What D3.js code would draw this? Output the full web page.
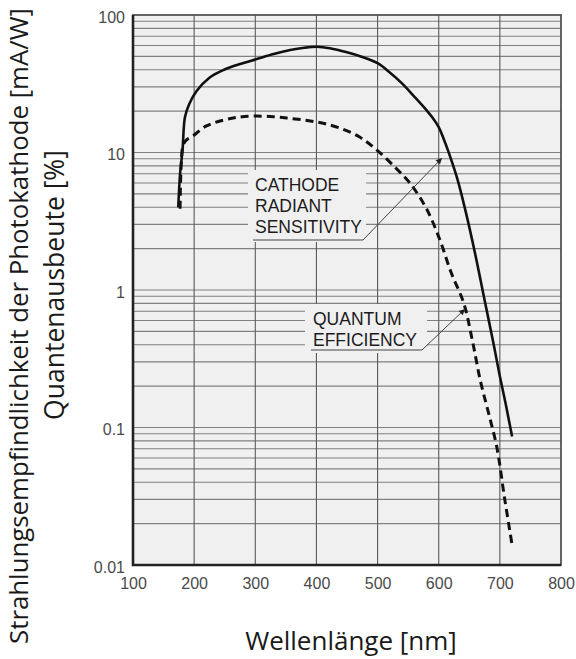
<!DOCTYPE html>
<html>
<head>
<meta charset="utf-8">
<script src="https://cdn.jsdelivr.net/npm/d3@7"></script>
<style>
  html, body { margin: 0; padding: 0; background: #ffffff; }
  svg { display: block; }
</style>
</head>
<body>
<svg id="chart" width="576" height="659"></svg>
<script>
// Photocathode spectral response: radiant sensitivity (mA/W) and quantum efficiency (%)
const wavelengthTicks = [100, 200, 300, 400, 500, 600, 700, 800];
const valueTicks = [0.01, 0.1, 1, 10, 100];
const valueTickLabels = ["0.01", "0.1", "1", "10", "100"];

const sensitivityWavelength = [174, 177, 181, 185, 192, 204, 225, 248, 275, 301, 330, 357, 380, 401, 422, 450, 475, 500, 520, 540, 560, 580, 590, 600, 608, 615, 630, 645, 660, 675, 690, 700, 710, 720];
const sensitivityValue      = [4.0, 7.0, 10.4, 18.1, 22.5, 28.0, 35.0, 39.8, 44.0, 47.6, 52.0, 55.6, 57.8, 58.8, 57.3, 53.5, 49.5, 44.6, 38.2, 31.8, 25.5, 20.3, 17.9, 15.3, 12.6, 10.4, 6.53, 3.58, 1.80, 0.846, 0.40, 0.236, 0.145, 0.086];

const efficiencyWavelength = [177, 178.5, 182, 188, 196, 220, 248, 270, 297, 330, 357, 385, 411, 439, 470, 499, 530, 553, 580, 602, 620, 641, 655, 668, 682, 695, 708, 720];
const efficiencyValue      = [3.9, 7.5, 11.3, 12.4, 13.0, 15.6, 17.2, 18.0, 18.4, 18.2, 17.7, 17.1, 16.3, 15.0, 13.0, 10.4, 7.7, 5.98, 3.9, 2.31, 1.35, 0.80, 0.43, 0.22, 0.125, 0.072, 0.030, 0.014];

const xTitle = "Wellenlänge [nm]";
const yTitleLines = ["Strahlungsempfindlichkeit der Photokathode [mA/W]", "Quantenausbeute [%]"];

const svg = d3.select("#chart");
const plot = { left: 133, right: 561, top: 15, bottom: 565 };

const x = d3.scaleLinear().domain([100, 800]).range([plot.left, plot.right]);
const y = d3.scaleLog().domain([0.01, 100]).range([plot.bottom, plot.top]);

// plot background
svg.append("rect")
  .attr("x", plot.left).attr("y", plot.top)
  .attr("width", plot.right - plot.left).attr("height", plot.bottom - plot.top)
  .attr("fill", "#f0f0f0");

// horizontal log grid (1..9 in each decade)
const minorValues = [];
for (let e = -2; e < 2; e++) {
  for (let m = 1; m <= 9; m++) {
    const v = m * Math.pow(10, e);
    if (v > 0.01 && v < 100) minorValues.push(v);
  }
}
svg.append("g").selectAll("line").data(minorValues).join("line")
  .attr("x1", plot.left).attr("x2", plot.right)
  .attr("y1", d => y(d)).attr("y2", d => y(d))
  .attr("stroke", "#808080").attr("stroke-width", 1.1);

// vertical grid at each 100 nm
svg.append("g").selectAll("line").data(wavelengthTicks.slice(1, -1)).join("line")
  .attr("x1", d => x(d)).attr("x2", d => x(d))
  .attr("y1", plot.top).attr("y2", plot.bottom)
  .attr("stroke", "#5a5a5a").attr("stroke-width", 1.1);

// label panels that interrupt the grid
const panels = [
  { x0: 248, y0: 170, x1: 366, y1: 242 },
  { x0: 305, y0: 304, x1: 427, y1: 353 }
];
svg.append("g").selectAll("rect").data(panels).join("rect")
  .attr("x", d => d.x0).attr("y", d => d.y0)
  .attr("width", d => d.x1 - d.x0).attr("height", d => d.y1 - d.y0)
  .attr("fill", "#f0f0f0");

// frame
svg.append("rect")
  .attr("x", plot.left).attr("y", plot.top)
  .attr("width", plot.right - plot.left).attr("height", plot.bottom - plot.top)
  .attr("fill", "none").attr("stroke", "#555").attr("stroke-width", 1.8);
svg.append("path")
  .attr("d", `M${plot.left},${plot.top} V${plot.bottom} H${plot.right}`)
  .attr("fill", "none").attr("stroke", "#222").attr("stroke-width", 2.6);

// axes tick labels
const xAxis = d3.axisBottom(x).tickValues(wavelengthTicks).tickSize(0).tickPadding(0);
const gx = svg.append("g").attr("transform", `translate(0,${plot.bottom})`).call(xAxis);
gx.select(".domain").remove();
gx.selectAll("text")
  .attr("y", 24).attr("dy", 0)
  .attr("font-family", "Liberation Sans, Arial, sans-serif")
  .attr("font-size", 16).attr("fill", "#4a4a4a");

const yAxis = d3.axisLeft(y).tickValues(valueTicks)
  .tickFormat((d, i) => valueTickLabels[i]).tickSize(0).tickPadding(8);
const gy = svg.append("g").attr("transform", `translate(${plot.left},0)`).call(yAxis);
gy.select(".domain").remove();
gy.selectAll("text")
  .attr("dy", "0.45em")
  .attr("font-family", "Liberation Sans, Arial, sans-serif")
  .attr("font-size", 16).attr("fill", "#4a4a4a");

// curves
const line = d3.line()
  .x(d => x(d[0])).y(d => y(d[1]))
  .curve(d3.curveCatmullRom.alpha(0.5));

svg.append("path")
  .datum(d3.zip(sensitivityWavelength, sensitivityValue))
  .attr("d", line)
  .attr("fill", "none").attr("stroke", "#111").attr("stroke-width", 2.6)
  .attr("stroke-linejoin", "round");

svg.append("path")
  .datum(d3.zip(efficiencyWavelength, efficiencyValue))
  .attr("d", line)
  .attr("fill", "none").attr("stroke", "#111").attr("stroke-width", 3)
  .attr("stroke-dasharray", "8,5");

// callouts
const callouts = [
  { lines: ["CATHODE", "RADIANT", "SENSITIVITY"], tx: 255, ty: 191,
    leader: [[253, 240], [363, 240], [442, 158]] },
  { lines: ["QUANTUM", "EFFICIENCY"], tx: 313, ty: 325,
    leader: [[311, 350], [422, 350], [465, 309]] }
];

svg.append("defs").append("marker")
  .attr("id", "tip").attr("viewBox", "0 0 10 10")
  .attr("refX", 10).attr("refY", 5)
  .attr("markerWidth", 9).attr("markerHeight", 6)
  .attr("markerUnits", "userSpaceOnUse")
  .attr("orient", "auto")
  .append("path").attr("d", "M0,0 L10,5 L0,10 Z").attr("fill", "#222");

const cg = svg.append("g");
callouts.forEach(c => {
  cg.append("path")
    .attr("d", d3.line()(c.leader))
    .attr("fill", "none").attr("stroke", "#444").attr("stroke-width", 1)
    .attr("marker-end", "url(#tip)");
  const t = cg.append("text")
    .attr("font-family", "Liberation Sans, Arial, sans-serif")
    .attr("font-size", 17.5).attr("fill", "#1c1c1c");
  c.lines.forEach((s, i) => {
    t.append("tspan").attr("x", c.tx).attr("y", c.ty + i * 21).text(s);
  });
});

// axis titles
svg.append("text")
  .attr("x", 351).attr("y", 650)
  .attr("text-anchor", "middle")
  .attr("font-family", "Open Sans, sans-serif")
  .attr("font-size", 26).attr("fill", "#1a1a1a")
  .text(xTitle);

svg.append("text")
  .attr("transform", "translate(28,8) rotate(-90)")
  .attr("text-anchor", "end")
  .attr("font-family", "Open Sans, sans-serif")
  .attr("font-size", 25.8).attr("fill", "#1a1a1a")
  .text(yTitleLines[0]);

svg.append("text")
  .attr("transform", "translate(64,285) rotate(-90)")
  .attr("text-anchor", "middle")
  .attr("font-family", "Open Sans, sans-serif")
  .attr("font-size", 26.5).attr("fill", "#1a1a1a")
  .text(yTitleLines[1]);
</script>
</body>
</html>
